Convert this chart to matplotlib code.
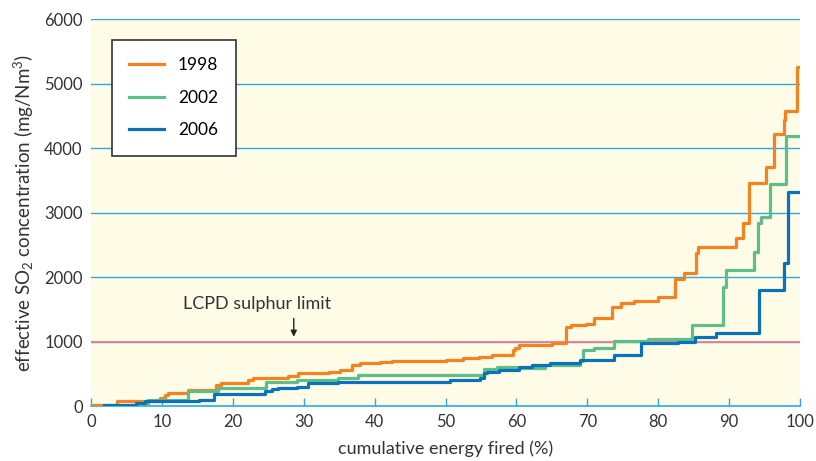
import numpy as np
import matplotlib
matplotlib.use('Agg')
import matplotlib.pyplot as plt

plt.rcParams['font.family'] = ['Lato', 'DejaVu Sans']
plt.rcParams['mathtext.default'] = 'regular'

# step breakpoints (cumulative energy %) and SO2 level (mg/Nm3) after each step
x_1998 = [0, 3.7, 9.8, 10.4, 10.9, 13.7, 17.6, 18.4, 22.2, 22.9, 27.8, 29.2, 33.5, 35.1,
          36.8, 38.0, 40.8, 42.5, 50.0, 52.4, 54.7, 56.6, 59.5, 59.8, 60.3, 65.0, 67.0,
          67.7, 69.8, 70.9, 73.5, 74.8, 76.6, 80.0, 82.3, 83.6, 85.3, 85.6, 91.0, 91.9,
          92.8, 95.2, 96.4, 97.7, 97.9, 99.6, 100]
y_1998 = [20, 75, 130, 170, 205, 250, 325, 360, 400, 430, 470, 510, 530, 560,
          635, 665, 680, 700, 715, 740, 760, 790, 870, 900, 945, 980, 1230,
          1255, 1270, 1360, 1530, 1600, 1625, 1695, 1970, 2060, 2370, 2460, 2600, 2840,
          3455, 3710, 4215, 4430, 4570, 5260, 5260]

x_2002 = [6.6, 8.0, 13.7, 17.9, 24.7, 29.0, 34.9, 37.7, 55.4, 57.3, 60.1, 64.1, 69.0,
          69.4, 70.9, 73.8, 78.6, 84.7, 89.1, 89.5, 93.5, 94.1, 94.5, 95.8, 98.0, 100]
y_2002 = [15, 90, 230, 280, 375, 400, 440, 480, 575, 610, 590, 635, 690,
          870, 905, 1010, 1040, 1255, 1850, 2110, 2390, 2835, 2935, 3440, 4180, 4180]

x_2006 = [1.9, 6.4, 7.6, 15.3, 17.4, 24.5, 25.5, 26.4, 29.0, 30.6, 34.9, 50.7, 54.9,
          55.4, 55.9, 57.5, 60.4, 62.2, 64.8, 69.0, 73.8, 77.6, 82.8, 85.2, 88.2, 94.2,
          97.8, 98.3, 100]
y_2006 = [15, 50, 75, 90, 185, 230, 260, 275, 300, 350, 370, 400, 430,
          505, 530, 560, 610, 635, 670, 715, 790, 980, 1000, 1075, 1125, 1800,
          2210, 3320, 3320]

years = ['1998', '2002', '2006']
colors = ['#F58220', '#5DBE8B', '#0A72BA']
lcpd_limit = 1000

fig = plt.figure(figsize=(8.16, 4.61), dpi=100)
ax = fig.add_axes([91 / 816, 1 - 406 / 461, 709 / 816, 387 / 461])
ax.set_facecolor('#FEFBE7')

for v in range(1000, 7000, 1000):
    ax.axhline(v, color='#29ABE2', lw=1.0, zorder=1)
ax.axhline(lcpd_limit, color='#F07A92', lw=1.3, zorder=2)

for xs, ys, c, lab in zip([x_1998, x_2002, x_2006], [y_1998, y_2002, y_2006], colors, years):
    ax.step(xs, ys, where='post', color=c, lw=2.3, label=lab, zorder=3)

ax.annotate('', xy=(28.6, 1030), xytext=(28.6, 1400),
            arrowprops=dict(arrowstyle='-|>', color='#222222', lw=1, mutation_scale=9))
ax.text(23.4, 1580, 'LCPD sulphur limit', ha='center', va='center', fontsize=13, color='#333333')

ax.set_xlim(0, 100)
ax.set_ylim(0, 6000)
ax.set_xticks(range(0, 101, 10))
ax.set_yticks(range(0, 6001, 1000))
for s in ['left', 'right', 'top']:
    ax.spines[s].set_visible(False)
ax.spines['bottom'].set_color('#29ABE2')
ax.spines['bottom'].set_linewidth(1.2)
ax.tick_params(axis='x', direction='in', length=6, color='#29ABE2', width=1, labelsize=12,
               labelcolor='#333333', pad=6)
ax.tick_params(axis='y', length=0, labelsize=12, labelcolor='#333333', pad=6)

ax.set_xlabel('cumulative energy fired (%)', fontsize=13, color='#333333', labelpad=7)
ax.set_ylabel('effective SO$_2$ concentration (mg/Nm$^3$)', fontsize=13.5, color='#333333', labelpad=6)

leg = ax.legend(loc='upper left', bbox_to_anchor=(21 / 709, 1 - 21 / 387), frameon=True,
                fancybox=False, edgecolor='#333333', fontsize=12.5, handlelength=2.0,
                labelspacing=0.95, borderpad=1.0, handletextpad=0.8, borderaxespad=0)
leg.get_frame().set_linewidth(1.2)
leg.get_frame().set_facecolor('white')
leg.get_frame().set_alpha(1)

fig.savefig('out.png', dpi=100)
